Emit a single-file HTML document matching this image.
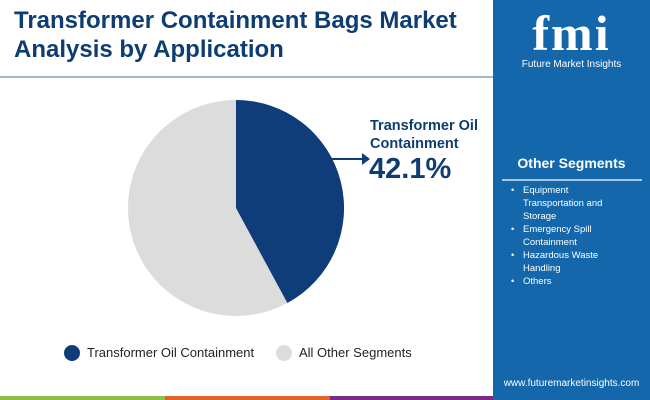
<!DOCTYPE html>
<html><head><meta charset="utf-8"><style>
body{margin:0;width:650px;height:400px;position:relative;overflow:hidden;background:#fff;font-family:"Liberation Sans",sans-serif}
.t{position:absolute;left:14px;top:6px;font-size:24px;font-weight:bold;color:#0e3d73;line-height:29px}
.panel{position:absolute;left:493px;top:0;width:157px;height:400px;background:#1467ab}
</style></head><body>
<div class="t">Transformer Containment Bags Market<br>Analysis by Application</div>
<div style="position:absolute;left:0;top:76px;width:493px;height:2px;background:#9fb8d2"></div>
<div class="panel">
  <div style="position:absolute;left:0;width:157px;top:8px;text-align:center;color:#fff;font-weight:bold;font-size:50px;letter-spacing:2px;font-family:'Liberation Serif',serif;line-height:50px">fmi</div>
  <div style="position:absolute;left:0;width:157px;top:59px;text-align:center;color:#fff;font-size:10px">Future Market Insights</div>
  <div style="position:absolute;left:0;width:157px;top:155px;text-align:center;color:#fff;font-weight:bold;font-size:14px">Other Segments</div>
  <div style="position:absolute;left:9px;top:179px;width:140px;height:2px;background:#a9c6e2"></div>
  <div style="position:absolute;left:18px;top:184px;color:#fff;font-size:9.5px;line-height:13px;width:112px">
    <div style="position:relative;padding-left:12px"><span style="position:absolute;left:0">•</span>Equipment<br>Transportation and<br>Storage</div>
    <div style="position:relative;padding-left:12px"><span style="position:absolute;left:0">•</span>Emergency Spill<br>Containment</div>
    <div style="position:relative;padding-left:12px"><span style="position:absolute;left:0">•</span>Hazardous Waste<br>Handling</div>
    <div style="position:relative;padding-left:12px"><span style="position:absolute;left:0">•</span>Others</div>
  </div>
  <div style="position:absolute;left:0;width:157px;top:378px;text-align:center;color:#fff;font-size:10px">www.futuremarketinsights.com</div>
</div>
<svg style="position:absolute;left:0;top:0" width="493" height="400">
  <circle cx="236" cy="208" r="108" fill="#dcdcdc"/>
  <path d="M236 208 L236 100 A108 108 0 0 1 287.4 303 Z" fill="#0e3d7a"/>
  <line x1="330" y1="159" x2="362" y2="159" stroke="#0e3d7a" stroke-width="2"/>
  <polygon points="362,153 370,159 362,165" fill="#0e3d7a"/>
  <circle cx="72" cy="353" r="8" fill="#0e3d7a"/>
  <circle cx="284" cy="353" r="8" fill="#dcdcdc"/>
</svg>
<div style="position:absolute;left:370px;top:117px;color:#0e3d73;font-weight:bold;font-size:14.5px;line-height:18px">Transformer Oil<br>Containment</div>
<div style="position:absolute;left:369px;top:153px;color:#0e3d73;font-weight:bold;font-size:29px;line-height:32px">42.1%</div>
<div style="position:absolute;left:87px;top:345px;font-size:13px;color:#222">Transformer Oil Containment</div>
<div style="position:absolute;left:299px;top:345px;font-size:13px;color:#222">All Other Segments</div>
<div style="position:absolute;left:0;top:396px;width:165px;height:4px;background:#8cbf44"></div>
<div style="position:absolute;left:165px;top:396px;width:165px;height:4px;background:#e0622a"></div>
<div style="position:absolute;left:330px;top:396px;width:163px;height:4px;background:#7b2b86"></div>
</body></html>
